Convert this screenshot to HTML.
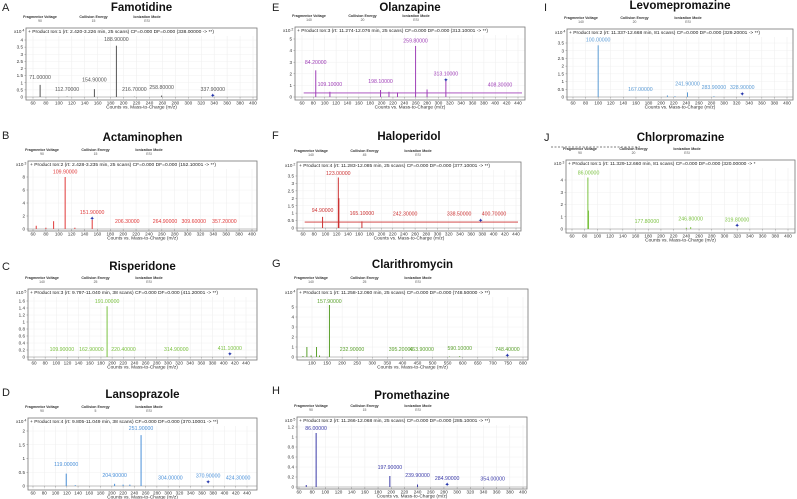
<!DOCTYPE html>
<html><head><meta charset="utf-8"><style>
html,body{margin:0;padding:0;background:#fff;}
svg{display:block;font-family:"Liberation Sans",Arial,sans-serif;}
</style></head><body>
<svg id="fig" width="797" height="499" viewBox="0 0 797 499" xmlns="http://www.w3.org/2000/svg"></svg>
<script>
// ---- Data (m/z, relative intensity, label positions) ----
const aMz=[71,112.7,154.9,188.9,216.7,258.8];
const aInt=[0.85,0.03,0.55,3.6,0.02,0.1];
const aLabMz=[71,112.7,154.9,188.9,216.7,258.8,337.9];
const aLabY=[1.4,0.56,1.2,4.07,0.56,0.7,0.56];
const aStar=[337.9,0.1];

const bMz=[65,80,92,109.9,125,151.9];
const bInt=[0.5,0.2,1.2,8.0,0.2,1.4];
const bLabMz=[109.9,151.9,206.3,264.9,309.6,357.2];
const bLabY=[8.8,2.6,1.2,1.2,1.2,1.2];
const bStar=[151.9,1.6];

const cMz=[191];
const cInt=[1.45];
const cLabMz=[109.9,162.9,220.4,314.9,411.1];
const cLabY=[0.23,0.23,0.23,0.23,0.25];
const cLabMzTop=[191];
const cLabYTop=[1.6];
const cStar=[411.1,0.08];

const dMz=[119,135,204.9,220,232,251.9];
const dInt=[0.45,0.03,0.08,0.05,0.05,1.85];
const dLabMz=[119,204.9,251.9,304,370.9,424.3];
const dLabY=[0.8,0.4,2.1,0.3,0.37,0.3];
const dStar=[370.9,0.15];

const eMz=[84.2,109.1,198.1,213,228,259.8,280,313.1];
const eInt=[2.3,0.45,0.6,0.45,0.4,4.4,0.65,1.4];
const eLabMz=[84.2,109.1,198.1,259.8,313.1,408.3];
const eLabY=[3.0,1.1,1.35,4.85,2.0,1.05];
const eStar=[313.1,1.45];

const fMz=[94.9,123,124,165.1];
const fInt=[0.75,3.4,2.0,0.45];
const fLabMz=[94.9,123,165.1,242.3,338.5,400.7];
const fLabY=[1.2,3.7,1.0,0.95,0.95,0.95];
const fStar=[377,0.5];

const gMz=[70,83,97,115,125,157.9,556,590];
const gInt=[0.1,1.0,0.15,1.0,0.15,5.2,0.05,0.08];
const gLabMz=[157.9,232.9,395.2,463.9,590.1,748.4];
const gLabY=[5.6,0.8,0.8,0.8,0.9,0.8];
const gStar=[748.4,0.15];

const hMz=[71,86,197.9,239.9];
const hInt=[0.04,1.08,0.22,0.05];
const hLabMz=[86,197.9,239.9,284.9,354];
const hLabY=[1.18,0.4,0.24,0.18,0.17];
const hStar=[284.9,0.05];

const iMz=[100,210,222,241.9,283.9];
const iInt=[3.35,0.1,0.05,0.3,0.05];
const iLabMz=[100,167,241.9,283.9,328.9];
const iLabY=[3.7,0.5,0.85,0.65,0.65];
const iStar=[328.9,0.2];

const jMz=[85,86,240,246.8];
const jInt=[4.2,1.5,0.1,0.15];
const jLabMz=[86,177.8,246.8,319.8];
const jLabY=[4.6,0.65,0.85,0.75];
const jStar=[320,0.3];

const NS="http://www.w3.org/2000/svg";
const svg=document.getElementById('fig');
function el(tag,attrs,parent,text){const e=document.createElementNS(NS,tag);for(const k in attrs)e.setAttribute(k,attrs[k]);if(text!==undefined)e.textContent=text;(parent||svg).appendChild(e);return e;}

function panel(c){
  const g=el('g',{});
  
  
  const [L,T,R,B]=c.box;
  const sx=v=>c.xp[0]+(v-c.xd[0])*(c.xp[1]-c.xp[0])/(c.xd[1]-c.xd[0]);
  const sy=v=>c.yp[0]+v*(c.yp[1]-c.yp[0])/c.ymax;
  const pl=el('text',{x:c.lx,y:c.ly,'font-size':11,fill:'#222'},g,c.letter);
  
  
  const tt=el('text',{x:(L+R)/2,y:c.ty,'font-size':11.5,'font-weight':'bold','text-anchor':'middle',fill:'#111'},g,c.title);
  
  
  const ph=[['Fragmentor Voltage',c.fv],['Collision Energy',c.ce],['Ionization Mode','ESI']];
  ph.forEach((p,i)=>{const x=L+14+i*53.5;
    const t1=el('text',{x:x,y:T-10,'font-size':3.6,'font-weight':'bold','text-anchor':'middle',fill:'#333'},g,p[0]);
    
    
    const t2=el('text',{x:x,y:T-6,'font-size':3.4,'text-anchor':'middle',fill:'#555'},g,p[1]);
    
    
  });
  // grid
  for(let v=c.xt[0];v<=c.xt[1]+1e-9;v+=c.xt[2]){const x=sx(v);
    el('line',{x1:x,x2:x,y1:T+8,y2:B,stroke:'#ececec','stroke-width':0.5},g);
    el('line',{x1:x,x2:x,y1:sy(0),y2:sy(0)+1.5,stroke:'#666','stroke-width':0.4},g);
    const tl=el('text',{x:x,y:B+4.5,'font-size':4.6,'text-anchor':'middle',fill:'#333'},g,String(v));
    
    
  }
  const dec=c.ys<1?1:0;
  for(let v=0;v<=c.ymax+1e-9;v+=c.ys){const y=sy(v);
    el('line',{x1:L,x2:R,y1:y,y2:y,stroke:'#f0f0f0','stroke-width':0.5},g);
    el('line',{x1:L-1.5,x2:L,y1:y,y2:y,stroke:'#666','stroke-width':0.4},g);
    const s=(Math.abs(v-Math.round(v))<1e-9)?String(Math.round(v)):v.toFixed(dec);
    const yl=el('text',{x:L-3,y:y+1.6,'font-size':4.6,'text-anchor':'end',fill:'#333'},g,s);
    
    
  }
  const bx=el('rect',{x:L,y:T,width:R-L,height:B-T,fill:'none',stroke:'#777','stroke-width':0.8},g);
  
  
  el('line',{x1:L,x2:R,y1:sy(0),y2:sy(0),stroke:'#888','stroke-width':0.5},g);
  const ex=el('text',{x:L-12,y:T+5,'font-size':4.6,fill:'#333'},g,'x10');
  
  
  el('tspan',{dy:-1.5,'font-size':3.6},ex,' '+c.exp);
  const hd=el('text',{x:L+2,y:T+5,'font-size':4.9,fill:'#222'},g,c.header);
  
  
  // baseline
  if(c.base){const bl=el('line',{x1:sx(c.xd[0]+3),x2:R-3,y1:sy(c.base),y2:sy(c.base),stroke:c.color,'stroke-width':0.8},g);
    
    }
  // peaks
  c.mz.forEach((m,i)=>{const x=sx(m);
    const p=el('line',{x1:x,x2:x,y1:sy(0),y2:sy(c.inten[i]),stroke:c.color,'stroke-width':1},g);
    
    
  });
  c.lmz.forEach((m,i)=>{
    const t=el('text',{x:sx(m),y:sy(c.ly2[i])+1.8,'font-size':5.2,'text-anchor':'middle',fill:c.color},g,m.toFixed(5));
    
    
  });
  const st=el('text',{x:sx(c.star[0]),y:sy(c.star[1])+2,'font-size':6,'text-anchor':'middle',fill:'#2233aa'},g,'✦');
  
  
  const at=el('text',{x:(L+R)/2,y:B+8.5,'font-size':4.8,'text-anchor':'middle',fill:'#333'},g,'Counts vs. Mass-to-Charge (m/z)');
  
  
}
const H=(n,rt,sc,pre)=>'+ Product Ion:'+n+' (rt: '+rt+' min, '+sc+' scans) CF=0.000 DF=0.000 ('+pre+' -> **)';
panel({letter:'A',lx:2,ly:11,title:'Famotidine',ty:11,box:[26,28,257,100],xd:[60,400],xp:[33,253],xt:[60,400,20],ymax:4,yp:[97,40],ys:0.5,exp:'4',color:'#555',fv:'90',ce:'15',header:H(1,'2.420-3.226',25,'338.00000'),mz:aMz,inten:aInt,lmz:aLabMz,ly2:aLabY,star:aStar});
panel({letter:'B',lx:2,ly:139,title:'Actaminophen',ty:141,box:[28,161,257,231],xd:[60,400],xp:[33,252],xt:[60,400,20],ymax:8,yp:[229,177],ys:2,exp:'3',color:'#e03a3a',fv:'90',ce:'15',header:H(2,'2.428-3.235',25,'152.10001'),mz:bMz,inten:bInt,lmz:bLabMz,ly2:bLabY,star:bStar});
panel({letter:'C',lx:2,ly:270,title:'Risperidone',ty:270,box:[28,289,257,360],xd:[60,440],xp:[34,246],xt:[60,440,20],ymax:1.6,yp:[357,301],ys:0.2,exp:'5',color:'#7cc242',fv:'140',ce:'25',header:H(3,'9.797-11.040',38,'411.20001'),mz:cMz,inten:cInt,lmz:cLabMz.concat(cLabMzTop),ly2:cLabY.concat(cLabYTop),star:cStar});
panel({letter:'D',lx:2,ly:396,title:'Lansoprazole',ty:398,box:[28,418,257,490],xd:[60,440],xp:[33,247],xt:[60,440,20],ymax:2,yp:[486,431],ys:0.5,exp:'4',color:'#4a90d9',fv:'90',ce:'5',header:H(4,'9.805-11.049',38,'370.10001'),mz:dMz,inten:dInt,lmz:dLabMz,ly2:dLabY,star:dStar});
panel({letter:'E',lx:272,ly:11,title:'Olanzapine',ty:11,box:[295,27,525,100],xd:[60,440],xp:[302,518],xt:[60,440,20],ymax:5,yp:[97,39],ys:1,exp:'2',color:'#a040b8',fv:'140',ce:'20',header:H(3,'11.274-12.076',25,'313.10001'),mz:eMz,inten:eInt,lmz:eLabMz,ly2:eLabY,star:eStar,base:0.35});
panel({letter:'F',lx:272,ly:139,title:'Haloperidol',ty:140,box:[297,162,521,231],xd:[60,440],xp:[303,516],xt:[60,440,20],ymax:3.5,yp:[228,176],ys:0.5,exp:'2',color:'#cc3333',fv:'140',ce:'45',header:H(4,'11.283-12.085',25,'377.10001'),mz:fMz,inten:fInt,lmz:fLabMz,ly2:fLabY,star:fStar,base:0.4});
panel({letter:'G',lx:272,ly:267,title:'Clarithromycin',ty:268,box:[297,289,528,360],xd:[100,800],xp:[312,523],xt:[100,800,50],ymax:5,yp:[357,307],ys:1,exp:'4',color:'#5aa02c',fv:'140',ce:'25',header:H(1,'11.258-12.060',25,'748.50000'),mz:gMz,inten:gInt,lmz:gLabMz,ly2:gLabY,star:gStar});
panel({letter:'H',lx:272,ly:394,title:'Promethazine',ty:399,box:[297,417,527,489],xd:[60,400],xp:[299,523],xt:[60,400,20],ymax:1.2,yp:[487,427],ys:0.2,exp:'5',color:'#3a3aa8',fv:'90',ce:'15',header:H(2,'11.266-12.068',25,'285.10001'),mz:hMz,inten:hInt,lmz:hLabMz,ly2:hLabY,star:hStar});
panel({letter:'I',lx:544,ly:11,title:'Levomepromazine',ty:9,box:[567,29,793,100],xd:[60,400],xp:[573,787],xt:[60,400,20],ymax:3.5,yp:[97,43],ys:0.5,exp:'4',color:'#5b9bd5',fv:'140',ce:'20',header:H(2,'11.337-12.668',81,'329.20001'),mz:iMz,inten:iInt,lmz:iLabMz,ly2:iLabY,star:iStar});
panel({letter:'J',lx:544,ly:141,title:'Chlorpromazine',ty:141,box:[566,160,795,233],xd:[60,400],xp:[572,788],xt:[60,400,20],ymax:4,yp:[229,180],ys:1,exp:'3',color:'#7cc242',fv:'90',ce:'20',header:'+ Product Ion:1 (rt: 11.329-12.660 min, 81 scans) CF=0.000 DF=0.000 (320.00000 -> *',mz:jMz,inten:jInt,lmz:jLabMz,ly2:jLabY,star:jStar});
const dash=el('line',{x1:551,x2:640,y1:147,y2:147,stroke:'#555','stroke-width':0.8,'stroke-dasharray':'2,1.5'});


</script>
</body></html>
